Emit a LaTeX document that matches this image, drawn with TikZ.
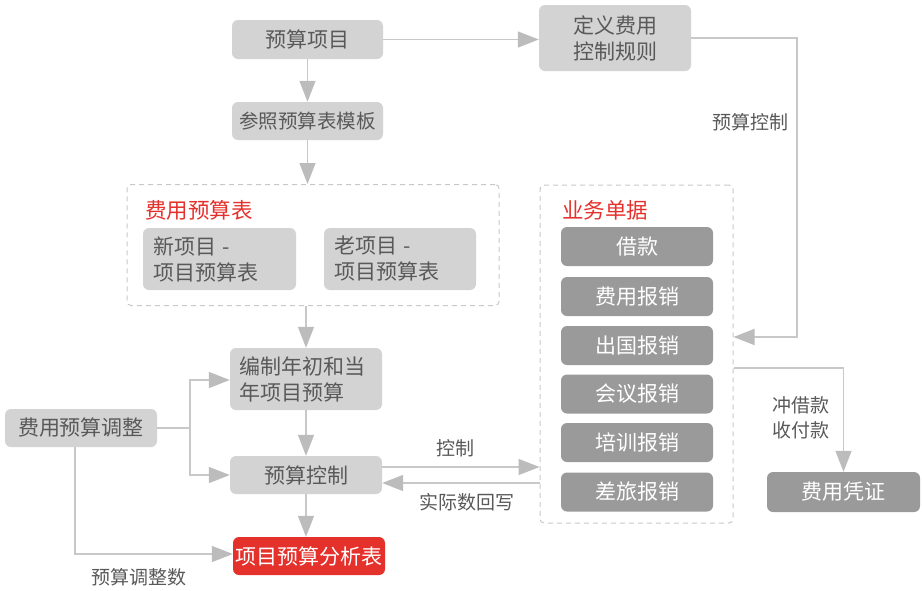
\documentclass[tikz,border=0pt]{standalone}
\usepackage{fontspec}
\setmainfont{Noto Sans CJK SC}
\usetikzlibrary{arrows.meta}

\definecolor{boxgray}{HTML}{D3D3D3}
\definecolor{darkgray}{HTML}{9A9A9A}
\definecolor{txtgray}{HTML}{595959}
\definecolor{linegray}{HTML}{C8C8C8}
\definecolor{tipgray}{HTML}{BCBCBC}
\definecolor{hotred}{HTML}{E5312B}

\begin{document}
\begin{tikzpicture}[x=1pt,y=-1pt,
  box/.style={fill=boxgray,rounded corners=6pt,text=txtgray,inner sep=0pt,
    minimum width=152pt,minimum height=39pt,font=\fontsize{21}{26}\selectfont},
  tallbox/.style={box,align=left,text width=134pt,inner xsep=9pt,minimum height=62pt},
  darkbox/.style={box,fill=darkgray,text=white},
  redbox/.style={box,fill=hotred,text=white},
  group/.style={draw=linegray,dashed,line width=1pt,dash pattern=on 5pt off 4pt,rounded corners=4pt,inner sep=0pt},
  title/.style={text=hotred,inner sep=0pt,font=\fontsize{21.5}{26}\selectfont},
  label/.style={text=txtgray,inner sep=0pt,font=\fontsize{19}{25}\selectfont},
  arr/.style={draw=linegray,line width=1.5pt,-{Triangle[length=21pt,width=16pt,color=tipgray]}},
  line/.style={draw=linegray,line width=1.5pt}]
  \useasboundingbox (0,0) rectangle (922,590);

  % groups
  \node[group,minimum width=372pt,minimum height=121pt] (fee) at (313,245) {};
  \node[title,anchor=west] (feet) at (145,210) {费用预算表};
  \node[group,minimum width=193pt,minimum height=338pt] (biz) at (636.5,354) {};
  \node[title,anchor=west] (bizt) at (562,210) {业务单据};

  % left column
  \node[box,minimum width=151pt] (item) at (307.5,39.5) {预算项目};
  \node[box,align=center,minimum height=66pt] (rule) at (615,38) {定义费用\\控制规则};
  \node[box,minimum width=151pt,minimum height=38pt,font=\fontsize{19.5}{24}\selectfont] (tmpl) at (307.5,121) {参照预算表模板};
  \node[tallbox,text width=133pt,inner xsep=10pt] (newp) at (219.5,259) {新项目 -\\项目预算表};
  \node[tallbox,text width=132pt,inner xsep=10pt] (oldp) at (400,259) {老项目 -\\项目预算表};
  \node[tallbox] (comp) at (306,379) {编制年初和当\\年项目预算};
  \node[box,minimum height=38pt] (ctrl) at (306,475) {预算控制};
  \node[redbox,minimum height=38pt] (ana) at (309,556) {项目预算分析表};
  \node[box,minimum height=38pt] (adj) at (81,428) {费用预算调整};

  % business documents
  \node[darkbox] (loan) at (637,246.5) {借款};
  \node[darkbox] (fees) at (637,296.5) {费用报销};
  \node[darkbox] (trip) at (637,345.5) {出国报销};
  \node[darkbox] (meet) at (637,394) {会议报销};
  \node[darkbox] (train) at (637,442.5) {培训报销};
  \node[darkbox] (travel) at (637,492) {差旅报销};
  \node[darkbox,minimum width=153pt,minimum height=40pt] (vou) at (843.5,492) {费用凭证};

  % connectors
  \draw[arr] (item.east) -- (item.east -| rule.west);
  \draw[arr] (item) -- (tmpl);
  \draw[arr] (tmpl.south) -- (tmpl.south |- fee.north);
  \draw[arr] (fee.south -| comp) -- (comp);
  \draw[arr] (comp) -- (ctrl);
  \draw[arr] (ctrl.south) -- (ctrl.south |- ana.north);
  \coordinate (br) at (190,428);
  \draw[line] (adj.east) -- (br);
  \draw[arr] (br) |- (comp.west |- 0,380);
  \draw[arr] (br) |- (ctrl.west);
  \draw[arr] ([xshift=-6pt]adj.south) |- (ana.west |- 0,554);
  \draw[arr] ([yshift=8pt]ctrl.east) -- ([yshift=8pt]ctrl.east -| biz.west);
  \draw[arr] ([yshift=-8pt]ctrl.east -| biz.west) -- ([yshift=-8pt]ctrl.east);
  \coordinate (rc) at (797,337);
  \draw[arr] (rule.east) -| (rc) -- (rc -| biz.east);
  \coordinate (vc) at (843.5,368);
  \draw[arr] (vc -| biz.east) -| (vou.north);

  % labels
  \node[label] (budl) at (750,122) {预算控制};
  \node[label] (ctll) at (455,448) {控制};
  \node[label] (actl) at (467,502) {实际数回写};
  \node[label,align=left] (payl) at (801,418) {冲借款\\收付款};
  \node[label] (adjl) at (139,577) {预算调整数};
\end{tikzpicture}
\end{document}
